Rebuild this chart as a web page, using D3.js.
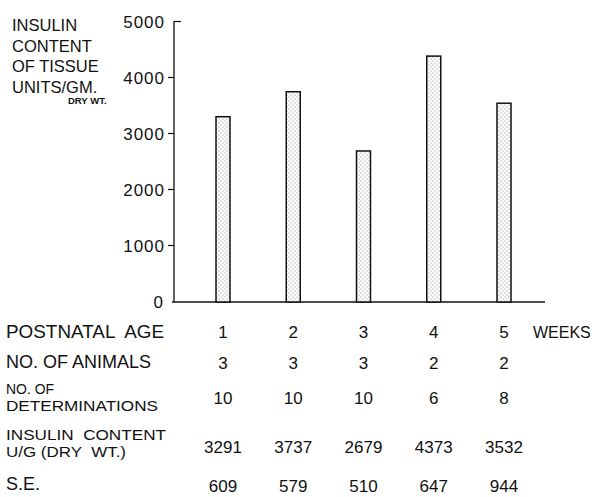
<!DOCTYPE html>
<html><head><meta charset="utf-8">
<script src="https://cdn.jsdelivr.net/npm/d3@7"></script>
<style>body{margin:0;background:#fff}svg{display:block}text{font-family:"Liberation Sans",Arial,sans-serif;fill:#111;white-space:pre}</style>
</head><body><svg id="c" width="610" height="497"></svg>
<script>
const weeks = ["1","2","3","4","5"];
const animals = ["3","3","3","2","2"];
const determinations = ["10","10","10","6","8"];
const insulin = [3291,3737,2679,4373,3532];
const se = [609,579,510,647,944];
const yTicks = [0,1000,2000,3000,4000,5000];
const yTitle = ["INSULIN","CONTENT","OF TISSUE","UNITS/GM."];

const svg = d3.select("#c");
const defs = svg.append("defs");
const pat = defs.append("pattern").attr("id","dots").attr("patternUnits","userSpaceOnUse")
  .attr("width",4).attr("height",4);
pat.append("rect").attr("width",4).attr("height",4).attr("fill","#fff");
pat.append("circle").attr("cx",1).attr("cy",1).attr("r",0.55).attr("fill","#777");
pat.append("circle").attr("cx",3).attr("cy",3).attr("r",0.55).attr("fill","#777");

const y = d3.scaleLinear().domain([0,5000]).range([301,21]);
const x = d3.scalePoint().domain(weeks).range([223,504]);
const axisX = 174;

// y axis
const ga = svg.append("g").attr("transform",`translate(${axisX},0)`)
  .call(d3.axisLeft(y).tickValues(yTicks).tickSize(6).tickPadding(3).tickFormat(d3.format("d")));
ga.select(".domain").remove();
ga.selectAll(".tick line").attr("stroke","#111").attr("stroke-width",1.2)
  .filter(d=>d===0).remove();
ga.selectAll(".tick line").filter(d=>d===5000).attr("x2",7);
ga.selectAll(".tick text").style("font-family","'Liberation Sans',Arial,sans-serif")
  .style("font-size","17px").style("letter-spacing","1px").attr("fill","#111")
  .attr("dy","0.36em");
ga.selectAll(".tick text").filter(d=>d===0).attr("x",-10);
svg.append("line").attr("x1",axisX).attr("x2",axisX).attr("y1",y(5000)).attr("y2",y(0)+1)
  .attr("stroke","#111").attr("stroke-width",1.3);
// baseline
svg.append("line").attr("x1",172).attr("x2",545).attr("y1",y(0)+1).attr("y2",y(0)+1)
  .attr("stroke","#111").attr("stroke-width",1.5);

// bars
svg.selectAll("rect.bar").data(insulin).join("rect").attr("class","bar")
  .attr("x",(d,i)=>x(weeks[i])-7).attr("width",14)
  .attr("y",d=>y(d)).attr("height",d=>y(0)-y(d)+1)
  .attr("fill","url(#dots)").attr("stroke","#111").attr("stroke-width",1.5);

// y title
svg.selectAll("text.yt").data(yTitle).join("text").attr("class","yt")
  .attr("x",12).attr("y",(d,i)=>31+i*20.7).style("font-size","16.5px").text(d=>d);
svg.append("text").attr("x",68).attr("y",104).style("font-size","9.5px").style("font-weight","bold").text("DRY WT.");

// table
function label(lines, base, gap, fs, lens){
  lines.forEach((t,i)=>{
    const el = svg.append("text").attr("x",6).attr("y",base+i*gap).style("font-size",fs).text(t);
    if (lens && lens[i]) el.attr("textLength",lens[i]).attr("lengthAdjust","spacingAndGlyphs");
  });
}
function row(vals, base){
  svg.append("g").selectAll("text").data(vals).join("text")
    .attr("x",(d,i)=>x(weeks[i])).attr("y",base).attr("text-anchor","middle")
    .style("font-size","17px").text(d=>d);
}
label(["POSTNATAL  AGE"],338,0,"18px",[158]); row(weeks,338);
svg.append("text").attr("x",533).attr("y",338).style("font-size","16px").text("WEEKS");
label(["NO. OF ANIMALS"],368,0,"18px"); row(animals,369);
label(["NO. OF","DETERMINATIONS"],394,17,"15.5px",[48,152]); row(determinations,404);
label(["INSULIN  CONTENT","U/G (DRY  WT.)"],440,17,"15.5px",[160,120]); row(insulin.map(String),453);
label(["S.E."],490,0,"18px"); row(se.map(String),492);
</script></body></html>
